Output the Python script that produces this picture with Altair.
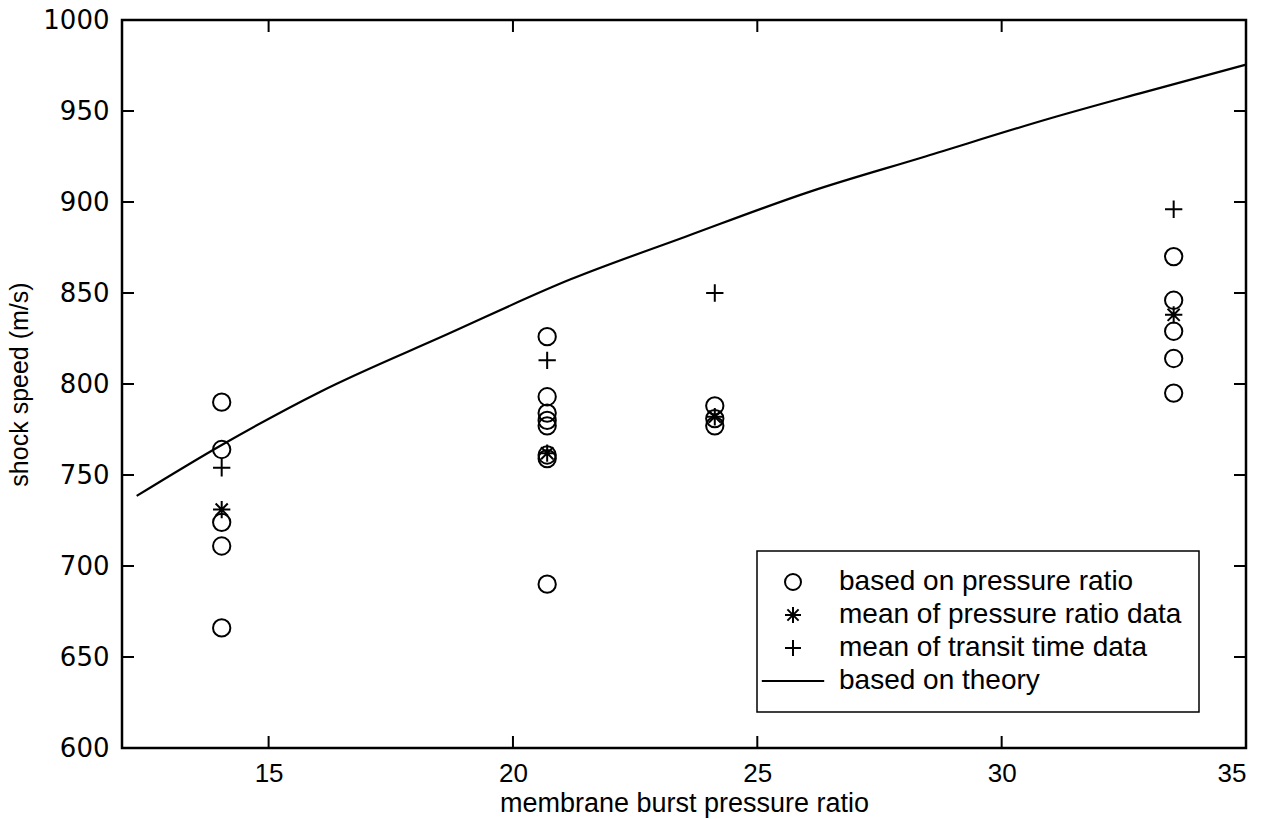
import altair as alt
import pandas as pd

# ---- data ----
circle_x = [14.04] * 5 + [20.7] * 8 + [24.13] * 3 + [33.52] * 5
circle_y = [790, 764, 724, 711, 666,
            826, 793, 784, 780, 777, 761, 759, 690,
            788, 781, 777,
            870, 846, 829, 814, 795]

mean_pr_x = [14.04, 20.7, 24.13, 33.52]
mean_pr_y = [731, 762, 782, 838]

mean_tt_x = [14.04, 20.7, 24.13, 33.52]
mean_tt_y = [754, 813, 850, 896]

theory_x = [12.3, 14.04, 16.06, 18.62, 21.18, 23.53, 26.08, 28.44, 31.0, 32.83, 35.0]
theory_y = [738.5, 766.5, 795.8, 826.9, 857.5, 880.9, 905.7, 925.0, 946.0, 959.7, 975.5]

x_ticks = [15, 20, 25, 30]
y_ticks = [650, 700, 750, 800, 850, 900, 950]

labels = ["based on pressure ratio", "mean of pressure ratio data",
          "mean of transit time data", "based on theory"]

# ---- tables ----
pts = pd.concat([
    pd.DataFrame({"x": circle_x, "y": circle_y, "series": labels[0]}),
    pd.DataFrame({"x": mean_pr_x, "y": mean_pr_y, "series": labels[1]}),
    pd.DataFrame({"x": mean_tt_x, "y": mean_tt_y, "series": labels[2]}),
], ignore_index=True)
theory = pd.DataFrame({"x": theory_x, "y": theory_y})
xt = pd.DataFrame({"v": x_ticks})
yt = pd.DataFrame({"v": y_ticks})

W, H = 1124, 728
TL = 12

xscale = alt.Scale(domain=[12, 35], nice=False, zero=False)
yscale = alt.Scale(domain=[600, 1000], nice=False, zero=False)

asterisk = "M0,-1V1M-1,0H1M-0.7,-0.7L0.7,0.7M-0.7,0.7L0.7,-0.7"
cross = "M-1,0H1M0,-1V1"
line_sym = "M-3.9,0H3.9"

xaxis = alt.Axis(values=[15, 20, 25, 30, 35], grid=False, domain=False, ticks=False,
                 labelFont="Liberation Sans", labelFontSize=26, labelColor="black",
                 labelPadding=12, title="membrane burst pressure ratio",
                 titleFont="Liberation Sans", titleFontSize=27, titleFontWeight="normal",
                 titleColor="black", titlePadding=4)
yaxis = alt.Axis(values=[600, 650, 700, 750, 800, 850, 900, 950, 1000], format="d",
                 grid=False, domain=False, ticks=False, labelFont="DejaVu Sans",
                 labelFontSize=26, labelColor="black", labelPadding=13,
                 title="shock speed (m/s)",
                 titleFont="Liberation Sans", titleFontSize=25, titleFontWeight="normal",
                 titleColor="black", titlePadding=10)

line = alt.Chart(theory).mark_line(color="black", strokeWidth=2.2,
                                   interpolate="monotone").encode(
    x=alt.X("x:Q", scale=xscale, axis=xaxis),
    y=alt.Y("y:Q", scale=yscale, axis=yaxis),
)

points = alt.Chart(pts).mark_point(filled=False, color="black", size=300, strokeWidth=2,
                                   opacity=1).encode(
    x=alt.X("x:Q", scale=xscale),
    y=alt.Y("y:Q", scale=yscale),
    shape=alt.Shape("series:N", title=None,
                    scale=alt.Scale(domain=labels, range=["circle", asterisk, cross, line_sym]),
                    legend=alt.Legend(orient="none", legendX=635, legendY=531,
                                      strokeColor="black", padding=17, rowPadding=5,
                                      symbolSize=256, symbolStrokeWidth=2, symbolOffset=5,
                                      symbolStrokeColor="black", symbolFillColor="transparent",
                                      labelFont="Liberation Sans", labelFontSize=28,
                                      labelColor="black", labelOffset=32, labelLimit=1000,
                                      fillColor="white")),
)

ytick_l = alt.Chart(yt).mark_rule(color="black", strokeWidth=2).encode(
    y=alt.Y("v:Q", scale=yscale), x=alt.value(0), x2=alt.value(TL))
ytick_r = alt.Chart(yt).mark_rule(color="black", strokeWidth=2).encode(
    y=alt.Y("v:Q", scale=yscale), x=alt.value(W - TL), x2=alt.value(W))
xtick_b = alt.Chart(xt).mark_rule(color="black", strokeWidth=2).encode(
    x=alt.X("v:Q", scale=xscale), y=alt.value(H - TL), y2=alt.value(H))
xtick_t = alt.Chart(xt).mark_rule(color="black", strokeWidth=2).encode(
    x=alt.X("v:Q", scale=xscale), y=alt.value(0), y2=alt.value(TL))

chart = alt.layer(line, ytick_l, ytick_r, xtick_b, xtick_t, points).properties(
    width=W, height=H,
    autosize=alt.AutoSizeParams(type="none"),
    padding={"left": 122, "top": 20, "right": 20, "bottom": 71},
    background="white",
).configure_view(stroke="black", strokeWidth=2.5).configure_legend(strokeWidth=1.5)

chart.save("out.html", embed_options={"renderer": "svg", "actions": False})
